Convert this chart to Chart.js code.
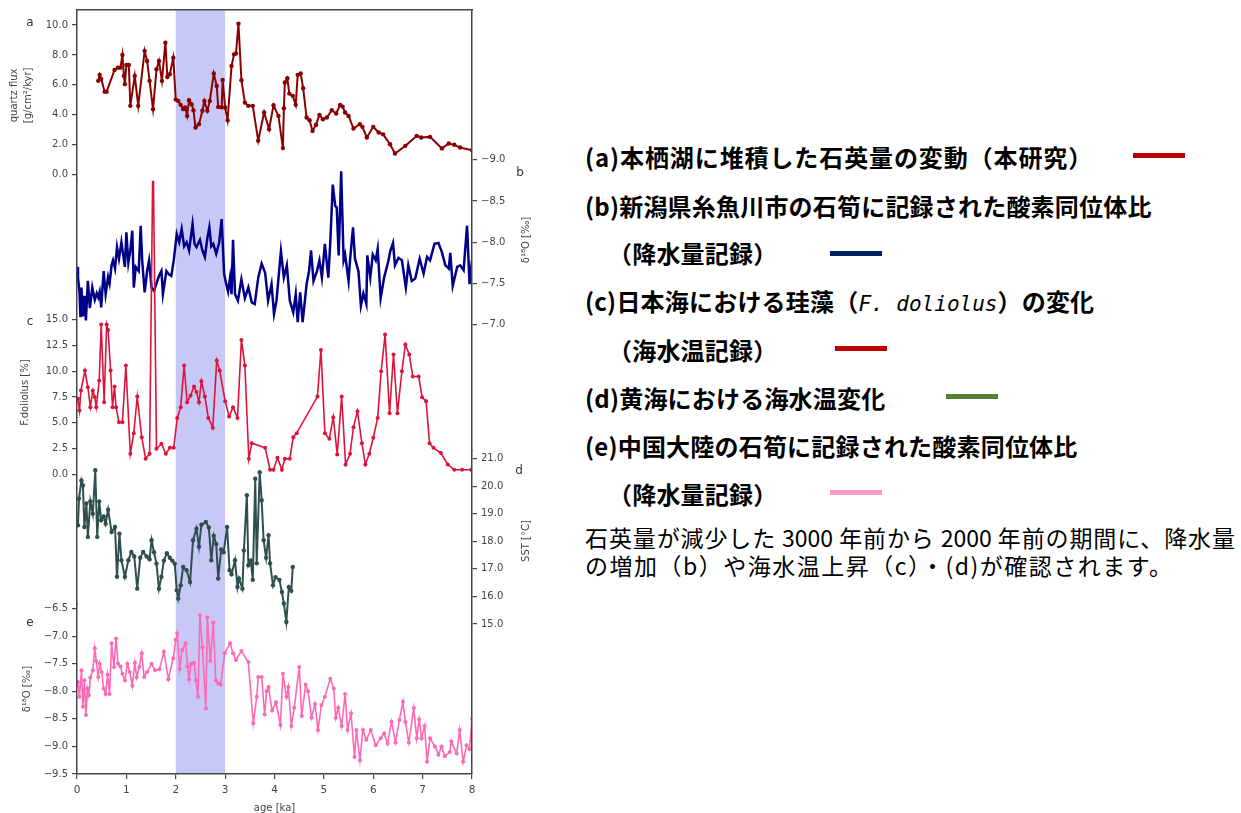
<!DOCTYPE html>
<html>
<head>
<meta charset="utf-8">
<script src="https://cdn.jsdelivr.net/npm/chart.js@4"></script>
<style>
  body { margin: 0; background: #fff; width: 1241px; height: 813px; overflow: hidden; position: relative; }
  #plot { position: absolute; left: 0; top: 0; }
  .tag { position: absolute; font: 12px 'DejaVu Sans', sans-serif; color: #333; transform: translate(-50%, -50%); }
  .ylab { position: absolute; font: 10px 'DejaVu Sans', sans-serif; color: #444; white-space: nowrap;
          transform: translate(-50%, -50%) rotate(-90deg); }
  .row { position: absolute; font-family: 'Noto Sans CJK JP', sans-serif; font-weight: bold; font-size: 24px;
         letter-spacing: 0.2px; line-height: 1; white-space: nowrap; color: #000; transform: translateY(-50%); }
  .row i { font-family: 'DejaVu Sans Mono', monospace; font-weight: normal; font-size: 21px; letter-spacing: 0; }
  .swatch { position: absolute; width: 52px; height: 5px; }
  .note { position: absolute; left: 585px; width: 650px; font-family: 'Noto Sans CJK JP', sans-serif; font-size: 23px;
          letter-spacing: 1.5px; line-height: 1; color: #000; white-space: nowrap; transform: translateY(-50%); }
  .just { text-align: justify; text-align-last: justify; white-space: normal; letter-spacing: 0; }
</style>
</head>
<body>
<canvas id="plot" width="560" height="813"></canvas>

<div class="tag" style="left:30px; top:22px;">a</div>
<div class="tag" style="left:520px; top:172px;">b</div>
<div class="tag" style="left:30px; top:321px;">c</div>
<div class="tag" style="left:519px; top:470px;">d</div>
<div class="tag" style="left:30px; top:622px;">e</div>
<div class="ylab" style="left:525px; top:240px;">δ¹⁸O [‰]</div>
<div class="ylab" style="left:525px; top:541px;">SST [°C]</div>

<div class="row" style="left:585px; top:157px; letter-spacing:0.9px;">(a)本栖湖に堆積した石英量の変動（本研究）</div>
<div class="swatch" style="left:1133px; top:153px; background:#c00000;"></div>
<div class="row" style="left:585px; top:206px;">(b)新潟県糸魚川市の石筍に記録された酸素同位体比</div>
<div class="row" style="left:608px; top:253px;">（降水量記録）</div>
<div class="swatch" style="left:830px; top:251px; background:#002060;"></div>
<div class="row" style="left:585px; top:302px;">(c)日本海における珪藻（<i>F. doliolus</i>）の変化</div>
<div class="row" style="left:608px; top:350px;">（海水温記録）</div>
<div class="swatch" style="left:835px; top:346px; background:#c00000;"></div>
<div class="row" style="left:585px; top:398px;">(d)黄海における海水温変化</div>
<div class="swatch" style="left:946px; top:394px; background:#548235;"></div>
<div class="row" style="left:585px; top:446px;">(e)中国大陸の石筍に記録された酸素同位体比</div>
<div class="row" style="left:608px; top:494px;">（降水量記録）</div>
<div class="swatch" style="left:830px; top:490px; background:#ff99cc;"></div>
<div class="note just" style="top:537px;">石英量が減少した 3000 年前から 2000 年前の期間に、降水量</div>
<div class="note" style="top:565px;">の増加（b）や海水温上昇（c）・(d)が確認されます。</div>

<script>
// x axis (age, ka) and the highlighted 3000-2000 yr BP window
const ageTicks = [0, 1, 2, 3, 4, 5, 6, 7, 8];
const shadeSpan = [2, 3];

// (a) quartz flux, Lake Motosu
const aAge = [0.43, 0.46, 0.49, 0.56, 0.6, 0.76, 0.83, 0.88, 0.92, 0.95, 0.97, 1.0, 1.05, 1.08, 1.17, 1.24, 1.37, 1.42,
  1.47, 1.54, 1.61, 1.66, 1.72, 1.79, 1.83, 1.88, 1.95, 2.0, 2.05, 2.1, 2.15, 2.19, 2.23, 2.27, 2.32, 2.36, 2.4, 2.47,
  2.54, 2.58, 2.64, 2.69, 2.77, 2.83, 2.86, 2.93, 2.95, 3.0, 3.05, 3.13, 3.18, 3.22, 3.27, 3.33, 3.4, 3.47, 3.56, 3.67,
  3.79, 3.89, 3.98, 4.08, 4.17, 4.19, 4.21, 4.26, 4.3, 4.37, 4.43, 4.47, 4.53, 4.58, 4.65, 4.71, 4.77, 4.84, 4.91, 4.98,
  5.06, 5.16, 5.25, 5.33, 5.38, 5.43, 5.5, 5.6, 5.73, 5.78, 5.87, 6.0, 6.11, 6.2, 6.34, 6.44, 6.65, 6.88, 6.97, 7.15,
  7.39, 7.53, 7.64, 7.76, 8.0];
const aFlux = [6.27, 6.67, 6.4, 5.55, 5.55, 7.0, 7.15, 7.15, 8.0, 6.6, 6.05, 7.33, 7.33, 4.6, 6.6, 4.6, 8.27, 7.6,
  6.27, 4.38, 7.04, 7.6, 6.27, 8.82, 6.53, 6.71, 7.82, 5.02, 4.93, 4.67, 4.38, 4.5, 3.93, 4.98, 4.71, 4.3, 3.15, 3.38,
  4.27, 4.93, 4.27, 4.93, 6.76, 5.93, 4.53, 4.5, 6.33, 4.49, 3.64, 7.27, 8.04, 8.1, 10.09, 6.31, 4.82, 4.6, 4.6, 2.27,
  4.16, 3.04, 4.64, 3.93, 1.78, 4.44, 6.16, 6.44, 5.42, 5.27, 4.67, 6.67, 6.76, 5.78, 3.82, 3.64, 2.93, 3.33, 4.0, 3.71,
  3.82, 4.31, 4.09, 4.67, 4.55, 4.16, 3.93, 3.09, 3.38, 3.2, 2.49, 3.2, 2.82, 2.7, 2.04, 1.42, 1.93, 2.6, 2.49, 2.53,
  1.76, 2.09, 2.0, 1.82, 1.64];
const aTicks = [0, 2, 4, 6, 8, 10];

// (b) speleothem d18O, Itoigawa (Niigata)
const bAge = [0.0, 0.02, 0.05, 0.07, 0.09, 0.12, 0.15, 0.18, 0.22, 0.26, 0.31, 0.36, 0.4, 0.43, 0.46, 0.49, 0.54, 0.58,
  0.63, 0.66, 0.7, 0.73, 0.77, 0.81, 0.85, 0.9, 0.94, 0.97, 1.0, 1.04, 1.08, 1.12, 1.15, 1.19, 1.25, 1.29, 1.32, 1.37,
  1.42, 1.46, 1.51, 1.56, 1.61, 1.66, 1.71, 1.74, 1.81, 1.86, 1.91, 1.96, 2.02, 2.07, 2.12, 2.17, 2.22, 2.27, 2.34, 2.38,
  2.42, 2.49, 2.54, 2.59, 2.64, 2.68, 2.72, 2.76, 2.82, 2.88, 2.93, 2.98, 3.02, 3.06, 3.1, 3.13, 3.16, 3.2, 3.26, 3.33,
  3.4, 3.47, 3.54, 3.6, 3.67, 3.74, 3.81, 3.87, 3.94, 3.99, 4.04, 4.13, 4.19, 4.25, 4.31, 4.38, 4.43, 4.47, 4.52, 4.57,
  4.65, 4.7, 4.74, 4.79, 4.86, 4.91, 4.96, 5.02, 5.09, 5.13, 5.18, 5.23, 5.26, 5.3, 5.35, 5.4, 5.43, 5.5, 5.53, 5.59,
  5.63, 5.7, 5.75, 5.8, 5.86, 5.88, 5.94, 5.99, 6.05, 6.09, 6.15, 6.22, 6.31, 6.34, 6.4, 6.44, 6.51, 6.58, 6.66, 6.71,
  6.78, 6.85, 6.94, 7.02, 7.09, 7.15, 7.24, 7.32, 7.39, 7.46, 7.53, 7.56, 7.61, 7.7, 7.76, 7.83, 7.9, 7.95, 8.0];
const bD18O = [-7.7, -7.57, -7.4, -7.09, -7.45, -7.1, -7.35, -7.05, -7.53, -7.2, -7.45, -7.3, -7.38, -7.33, -7.4, -7.21,
  -7.65, -7.37, -7.58, -7.5, -7.72, -7.78, -7.68, -7.94, -7.8, -8.0, -7.83, -7.7, -8.12, -7.75, -7.9, -8.14, -7.45, -7.7,
  -7.65, -8.2, -7.78, -7.39, -7.65, -7.78, -7.45, -7.41, -7.5, -7.59, -7.65, -7.37, -7.65, -7.61, -7.59, -7.78, -8.1,
  -8.0, -8.16, -7.95, -8.0, -7.9, -8.22, -7.98, -7.94, -8.03, -7.9, -7.82, -8.05, -8.18, -7.95, -7.98, -7.86, -8.0, -8.28,
  -7.61, -7.5, -7.4, -7.57, -7.37, -8.03, -7.37, -7.29, -7.55, -7.32, -7.45, -7.27, -7.25, -7.57, -7.74, -7.63, -7.29,
  -7.49, -7.13, -7.29, -7.89, -7.57, -7.72, -7.29, -7.15, -7.37, -7.03, -7.39, -7.03, -7.49, -7.65, -7.9, -7.53, -7.65,
  -7.78, -7.57, -7.98, -7.57, -8.0, -8.7, -8.44, -8.42, -7.84, -8.86, -7.78, -7.85, -7.53, -7.78, -8.18, -7.8, -7.65,
  -7.23, -7.38, -7.25, -7.84, -7.57, -7.85, -7.78, -7.92, -7.32, -7.57, -7.78, -7.88, -7.99, -7.72, -7.81, -7.78, -7.45,
  -7.72, -7.53, -7.56, -7.8, -7.62, -7.82, -7.78, -7.98, -7.99, -7.88, -7.72, -7.68, -7.87, -7.47, -7.7, -7.72, -7.66,
  -8.2, -7.49, -7.78];
const bTicks = [-9, -8.5, -8, -7.5, -7];

// (c) F. doliolus, Japan Sea
const cAge = [0.02, 0.05, 0.08, 0.16, 0.22, 0.27, 0.32, 0.36, 0.39, 0.45, 0.49, 0.55, 0.6, 0.63, 0.68, 0.72, 0.76, 0.79,
  0.85, 0.92, 0.99, 1.08, 1.15, 1.22, 1.31, 1.39, 1.47, 1.54, 1.61, 1.71, 1.8, 1.88, 1.96, 2.03, 2.1, 2.17, 2.23, 2.3,
  2.37, 2.42, 2.47, 2.52, 2.59, 2.66, 2.75, 2.83, 2.89, 3.0, 3.08, 3.16, 3.25, 3.33, 3.4, 3.48, 3.54, 3.81, 3.91, 3.98,
  4.06, 4.15, 4.21, 4.31, 4.38, 4.45, 4.87, 4.94, 5.02, 5.11, 5.19, 5.27, 5.36, 5.44, 5.53, 5.6, 5.68, 5.77, 5.84, 5.92,
  6.0, 6.09, 6.16, 6.24, 6.33, 6.41, 6.49, 6.58, 6.65, 6.73, 6.8, 6.92, 6.99, 7.07, 7.14, 7.22, 7.37, 7.51, 7.64, 7.8,
  7.98];
const cDoliolus = [7.33, 6.2, 8.13, 10.07, 8.45, 6.52, 8.13, 7.5, 6.52, 9.1, 14.52, 7.0, 14.52, 14.0, 10.07, 6.52, 8.52,
  6.52, 5.06, 5.06, 10.55, 2.0, 4.0, 7.55, 3.61, 1.52, 2.0, 32.0, 2.49, 2.97, 2.0, 2.58, 2.58, 5.48, 6.52, 10.55, 7.0,
  7.65, 8.52, 8.0, 7.0, 9.03, 7.55, 5.48, 4.52, 11.03, 10.07, 7.1, 5.61, 6.52, 5.48, 13.04, 10.55, 1.52, 3.03, 2.58,
  0.45, 0.45, 1.61, 0.45, 1.52, 1.52, 3.61, 4.0, 7.55, 12.07, 4.0, 3.45, 5.55, 1.94, 7.55, 0.97, 2.0, 4.58, 6.13, 3.03,
  0.97, 2.0, 3.55, 5.48, 10.0, 13.55, 5.94, 11.62, 5.94, 10.0, 12.58, 11.62, 9.49, 9.49, 7.48, 7.1, 3.03, 2.58, 2.07,
  0.97, 0.45, 0.45, 0.45];
const cTicks = [0, 2.5, 5, 7.5, 10, 12.5, 15];

// (d) SST, Yellow Sea
const dAge = [0.02, 0.04, 0.09, 0.12, 0.15, 0.19, 0.22, 0.27, 0.32, 0.37, 0.41, 0.45, 0.49, 0.54, 0.58, 0.63, 0.7, 0.77,
  0.81, 0.86, 0.9, 0.97, 1.04, 1.1, 1.16, 1.22, 1.28, 1.34, 1.41, 1.47, 1.51, 1.56, 1.61, 1.66, 1.71, 1.76, 1.82, 1.88,
  1.93, 1.98, 2.02, 2.05, 2.1, 2.15, 2.22, 2.29, 2.35, 2.42, 2.47, 2.52, 2.61, 2.67, 2.72, 2.77, 2.82, 2.86, 2.92, 2.97,
  3.04, 3.09, 3.13, 3.2, 3.25, 3.28, 3.35, 3.38, 3.44, 3.47, 3.52, 3.56, 3.61, 3.64, 3.7, 3.74, 3.78, 3.83, 3.88, 3.91,
  3.97, 4.02, 4.1, 4.15, 4.19, 4.24, 4.29, 4.34, 4.37];
const dSST = [18.58, 19.55, 20.21, 20.03, 18.52, 19.37, 18.16, 19.45, 19.0, 20.58, 18.16, 19.45, 18.76, 18.9, 18.64,
  19.15, 18.34, 18.52, 16.71, 18.28, 17.31, 16.71, 17.31, 17.61, 17.45, 16.28, 17.4, 17.61, 17.45, 17.35, 18.04, 17.6,
  17.19, 16.28, 16.71, 17.3, 17.57, 17.4, 17.3, 17.19, 16.22, 15.92, 16.4, 17.07, 16.95, 16.52, 18.04, 18.46, 17.8, 18.6,
  18.7, 18.5, 17.31, 18.2, 17.9, 16.65, 17.7, 17.6, 18.52, 16.95, 16.8, 17.31, 16.34, 16.65, 16.28, 17.67, 19.67, 17.13,
  17.3, 16.6, 20.27, 17.2, 20.51, 19.49, 18.04, 17.4, 18.22, 17.2, 16.4, 16.7, 16.6, 16.16, 15.74, 15.07, 16.34, 16.2,
  17.07];
const dTicks = [15, 16, 17, 18, 19, 20, 21];

// (e) speleothem d18O, mainland China
const eAge = [0.02, 0.05, 0.09, 0.12, 0.15, 0.18, 0.21, 0.24, 0.27, 0.32, 0.36, 0.39, 0.43, 0.46, 0.5, 0.54, 0.58, 0.62,
  0.66, 0.7, 0.75, 0.79, 0.83, 0.88, 0.92, 0.97, 1.02, 1.07, 1.12, 1.17, 1.21, 1.26, 1.31, 1.36, 1.42, 1.51, 1.58, 1.67,
  1.76, 1.85, 1.95, 2.0, 2.03, 2.08, 2.13, 2.2, 2.24, 2.27, 2.31, 2.37, 2.41, 2.45, 2.49, 2.54, 2.61, 2.64, 2.7, 2.76,
  2.81, 2.86, 2.91, 2.99, 3.1, 3.16, 3.22, 3.33, 3.47, 3.57, 3.64, 3.67, 3.74, 3.8, 3.84, 3.88, 3.95, 4.03, 4.12, 4.17,
  4.24, 4.28, 4.34, 4.4, 4.5, 4.55, 4.63, 4.68, 4.75, 4.82, 4.88, 4.95, 5.02, 5.13, 5.2, 5.24, 5.29, 5.36, 5.43, 5.48,
  5.55, 5.62, 5.66, 5.73, 5.79, 5.86, 5.95, 6.05, 6.15, 6.22, 6.29, 6.37, 6.45, 6.53, 6.6, 6.65, 6.72, 6.82, 6.88, 6.93,
  6.98, 7.04, 7.09, 7.15, 7.25, 7.32, 7.38, 7.45, 7.55, 7.58, 7.69, 7.75, 7.82, 7.89, 7.95, 8.0];
const eD18O = [-7.83, -8.1, -7.62, -8.28, -7.8, -8.43, -7.95, -8.07, -7.75, -7.62, -7.22, -7.45, -7.74, -7.5, -7.65,
  -7.95, -8.05, -7.7, -8.05, -7.13, -7.56, -7.04, -7.5, -7.55, -7.68, -7.8, -7.5, -7.65, -7.9, -7.48, -7.75, -7.56,
  -7.31, -7.74, -7.65, -7.5, -7.62, -7.6, -7.28, -7.78, -7.4, -7.07, -6.95, -7.59, -7.25, -7.13, -7.55, -7.78, -7.5,
  -7.48, -7.8, -8.1, -6.62, -7.2, -8.31, -6.66, -7.45, -6.75, -7.8, -7.86, -7.88, -7.31, -7.13, -7.31, -7.43, -7.27,
  -7.47, -8.58, -8.1, -7.74, -7.74, -8.42, -8.0, -7.92, -8.35, -8.2, -8.61, -7.68, -8.1, -7.92, -8.63, -8.3, -7.56,
  -8.45, -7.88, -8.0, -8.48, -8.23, -8.7, -8.25, -8.1, -7.77, -7.95, -8.48, -8.3, -8.63, -8.05, -8.7, -8.4, -9.19, -8.7,
  -9.25, -8.7, -8.88, -8.7, -8.98, -8.85, -8.76, -8.95, -8.55, -8.93, -8.52, -8.19, -8.55, -8.93, -8.3, -8.85, -8.51,
  -8.85, -8.63, -9.28, -8.85, -9.0, -9.15, -9.0, -9.18, -9.1, -8.91, -9.13, -8.7, -9.28, -8.98, -9.05, -8.5];
const eTicks = [-9.5, -9, -8.5, -8, -7.5, -7, -6.5];

const FONT = 'DejaVu Sans';
const INK = '#444';

function pts(xs, ys) {
  return xs.map((x, i) => ({ x: x, y: ys[i] }));
}

function fmt(v) {
  return (v < 0 ? '\u2212' : '') + Math.abs(v).toFixed(1);
}

function fixTicks(list) {
  return function (scale) {
    scale.ticks = list.map(v => ({ value: v }));
  };
}

// each y panel is one slice of a stacked axis column; min/max put the ticks where the figure has them
function yAxis(pos, weight, stackWeight, min, max, ticks, title, titlePad, reverse) {
  return {
    type: 'linear',
    position: pos,
    stack: pos,
    stackWeight: stackWeight,
    weight: weight,
    min: min,
    max: max,
    reverse: !!reverse,
    afterBuildTicks: fixTicks(ticks),
    afterFit: function (s) { s.width = pos === 'left' ? 77 : 88; },
    grid: { display: true, drawOnChartArea: false, tickLength: 5, color: INK, lineWidth: 1.2 },
    border: { display: true, color: INK, width: 1.5, z: 1 },
    ticks: {
      autoSkip: false,
      padding: 4,
      color: INK,
      font: { family: FONT, size: 10 },
      callback: v => fmt(v)
    },
    title: title ? {
      display: true,
      text: title,
      color: INK,
      font: { family: FONT, size: 10, lineHeight: 1.4 },
      padding: { top: titlePad, bottom: 0 }
    } : { display: false }
  };
}

function series(xs, ys, yId, color, width, radius, order) {
  return {
    data: pts(xs, ys),
    yAxisID: yId,
    borderColor: color,
    backgroundColor: color,
    borderWidth: width,
    pointRadius: radius,
    pointBorderWidth: 0,
    pointBackgroundColor: color,
    tension: 0,
    order: order
  };
}

const shadePlugin = {
  id: 'shade',
  beforeDatasetsDraw(chart) {
    const { ctx, chartArea, scales } = chart;
    const x0 = scales.x.getPixelForValue(shadeSpan[0]);
    const x1 = scales.x.getPixelForValue(shadeSpan[1]);
    ctx.save();
    ctx.fillStyle = '#c8c8f7';
    ctx.fillRect(x0, chartArea.top, x1 - x0, chartArea.bottom - chartArea.top);
    ctx.restore();
  }
};

new Chart(document.getElementById('plot'), {
  type: 'line',
  data: {
    datasets: [
      series(aAge, aFlux, 'ya', '#8b0000', 2, 2.2, 5),
      series(bAge, bD18O, 'yb', '#00008b', 2.5, 0, 4),
      series(cAge, cDoliolus, 'yc', '#dc143c', 1.6, 2, 3),
      series(dAge, dSST, 'yd', '#2f4f4f', 2, 2.2, 2),
      series(eAge, eD18O, 'ye', '#ff69b4', 1.6, 2, 1)
    ]
  },
  options: {
    responsive: false,
    animation: false,
    devicePixelRatio: 1,
    layout: { padding: 0 },
    plugins: { legend: { display: false }, tooltip: { enabled: false } },
    scales: {
      x: {
        type: 'linear',
        position: 'bottom',
        min: 0,
        max: 8,
        afterBuildTicks: fixTicks(ageTicks),
        afterFit: function (s) { s.height = 39; },
        grid: { display: true, drawOnChartArea: false, tickLength: 5, color: INK, lineWidth: 1.2 },
        border: { display: true, color: INK, width: 1.5, z: 1 },
        ticks: { autoSkip: false, maxRotation: 0, padding: 5, color: INK, font: { family: FONT, size: 10.5 },
                 callback: v => String(v) },
        title: { display: true, text: 'age [ka]', color: INK, font: { family: FONT, size: 10, lineHeight: 1 },
                 padding: { top: 0, bottom: 0 } }
      },
      xt: {
        type: 'linear',
        position: 'top',
        min: 0,
        max: 8,
        afterFit: function (s) { s.height = 9; },
        grid: { display: false },
        ticks: { display: false },
        border: { display: true, color: INK, width: 1.5, z: 1 }
      },
      ya: yAxis('left', 3, 171, -0.4, 11.0, aTicks, ['quartz flux', '[g/cm\u00b2/kyr]'], 7),
      yc: yAxis('left', 2, 424, -12.58, 28.46, cTicks, 'F.doliolus [%]', 18),
      ye: yAxis('left', 1, 170, -9.5, -6.42, eTicks, '\u03b4\u00b9\u2078O [\u2030]', 20),
      yb: yAxis('right', 1, 441, -10.818, -5.473, bTicks, null, 0, true),
      yd: yAxis('right', 2, 324, 9.55, 21.3, dTicks, null, 0)
    }
  },
  plugins: [shadePlugin]
});
</script>
</body>
</html>
